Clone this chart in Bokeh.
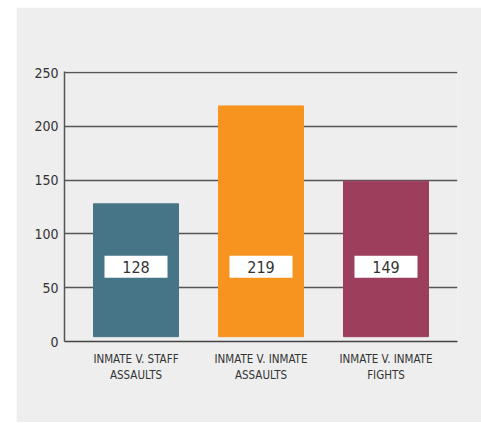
from bokeh.plotting import figure
from bokeh.models import FactorRange, ColumnDataSource, Spacer
from bokeh.layouts import row, column
from bokeh.core.properties import value
from bokeh.embed import file_html
from bokeh.resources import INLINE

categories = ["INMATE V. STAFF\nASSAULTS", "INMATE V. INMATE\nASSAULTS", "INMATE V. INMATE\nFIGHTS"]
counts = [128, 219, 149]
count_labels = ["128", "219", "149"]
bar_colors = ["#477588", "#F7941F", "#9D3F5C"]
y_ticks = [0, 50, 100, 150, 200, 250]

FONT = "DejaVu Sans Condensed"
BG = "#EEEEEE"

src = ColumnDataSource(dict(cat=categories, top=counts, lab=count_labels, color=bar_colors))

p = figure(
    x_range=FactorRange(factors=categories, range_padding=0.072, range_padding_units="absolute"),
    y_range=(0, 251),
    width=465, height=415,
    min_border_left=48, min_border_right=24, min_border_top=64, min_border_bottom=81,
    output_backend="svg", toolbar_location=None,
    background_fill_color=BG, border_fill_color=BG,
)
p.outline_line_color = None

p.vbar(x="cat", top="top", bottom=4.5, width=0.68, color="color", source=src)

p.rect(x="cat", y=69.5, width=63, height=22, width_units="screen", height_units="screen",
       fill_color="white", line_color=None, source=src)
p.text(x="cat", y=69.5, text="lab", text_font=value(FONT), text_font_size="16px",
       text_color="#333333", text_align="center", text_baseline="middle", source=src)

p.xgrid.grid_line_color = None
p.ygrid.grid_line_color = "#555555"
p.ygrid.grid_line_width = 1.5
p.yaxis.ticker = y_ticks

p.yaxis.axis_line_color = "#555555"
p.yaxis.axis_line_width = 1.5
p.yaxis.major_tick_line_color = None
p.yaxis.minor_tick_line_color = None
p.yaxis.major_tick_out = 0
p.yaxis.major_label_standoff = 6
p.yaxis.major_label_text_font = FONT
p.yaxis.major_label_text_font_size = "14px"
p.yaxis.major_label_text_color = "#333333"

p.xaxis.axis_line_color = "#444444"
p.xaxis.axis_line_width = 1.5
p.xaxis.major_tick_line_color = None
p.xaxis.minor_tick_line_color = None
p.xaxis.major_tick_out = 0
p.xaxis.major_label_standoff = 10
p.xaxis.major_label_text_font = FONT
p.xaxis.major_label_text_font_size = "11.5px"
p.xaxis.major_label_text_color = "#333333"

layout = column(Spacer(width=481, height=7), row(Spacer(width=16, height=415), p))

open("out.html", "w").write(file_html(layout, INLINE))
